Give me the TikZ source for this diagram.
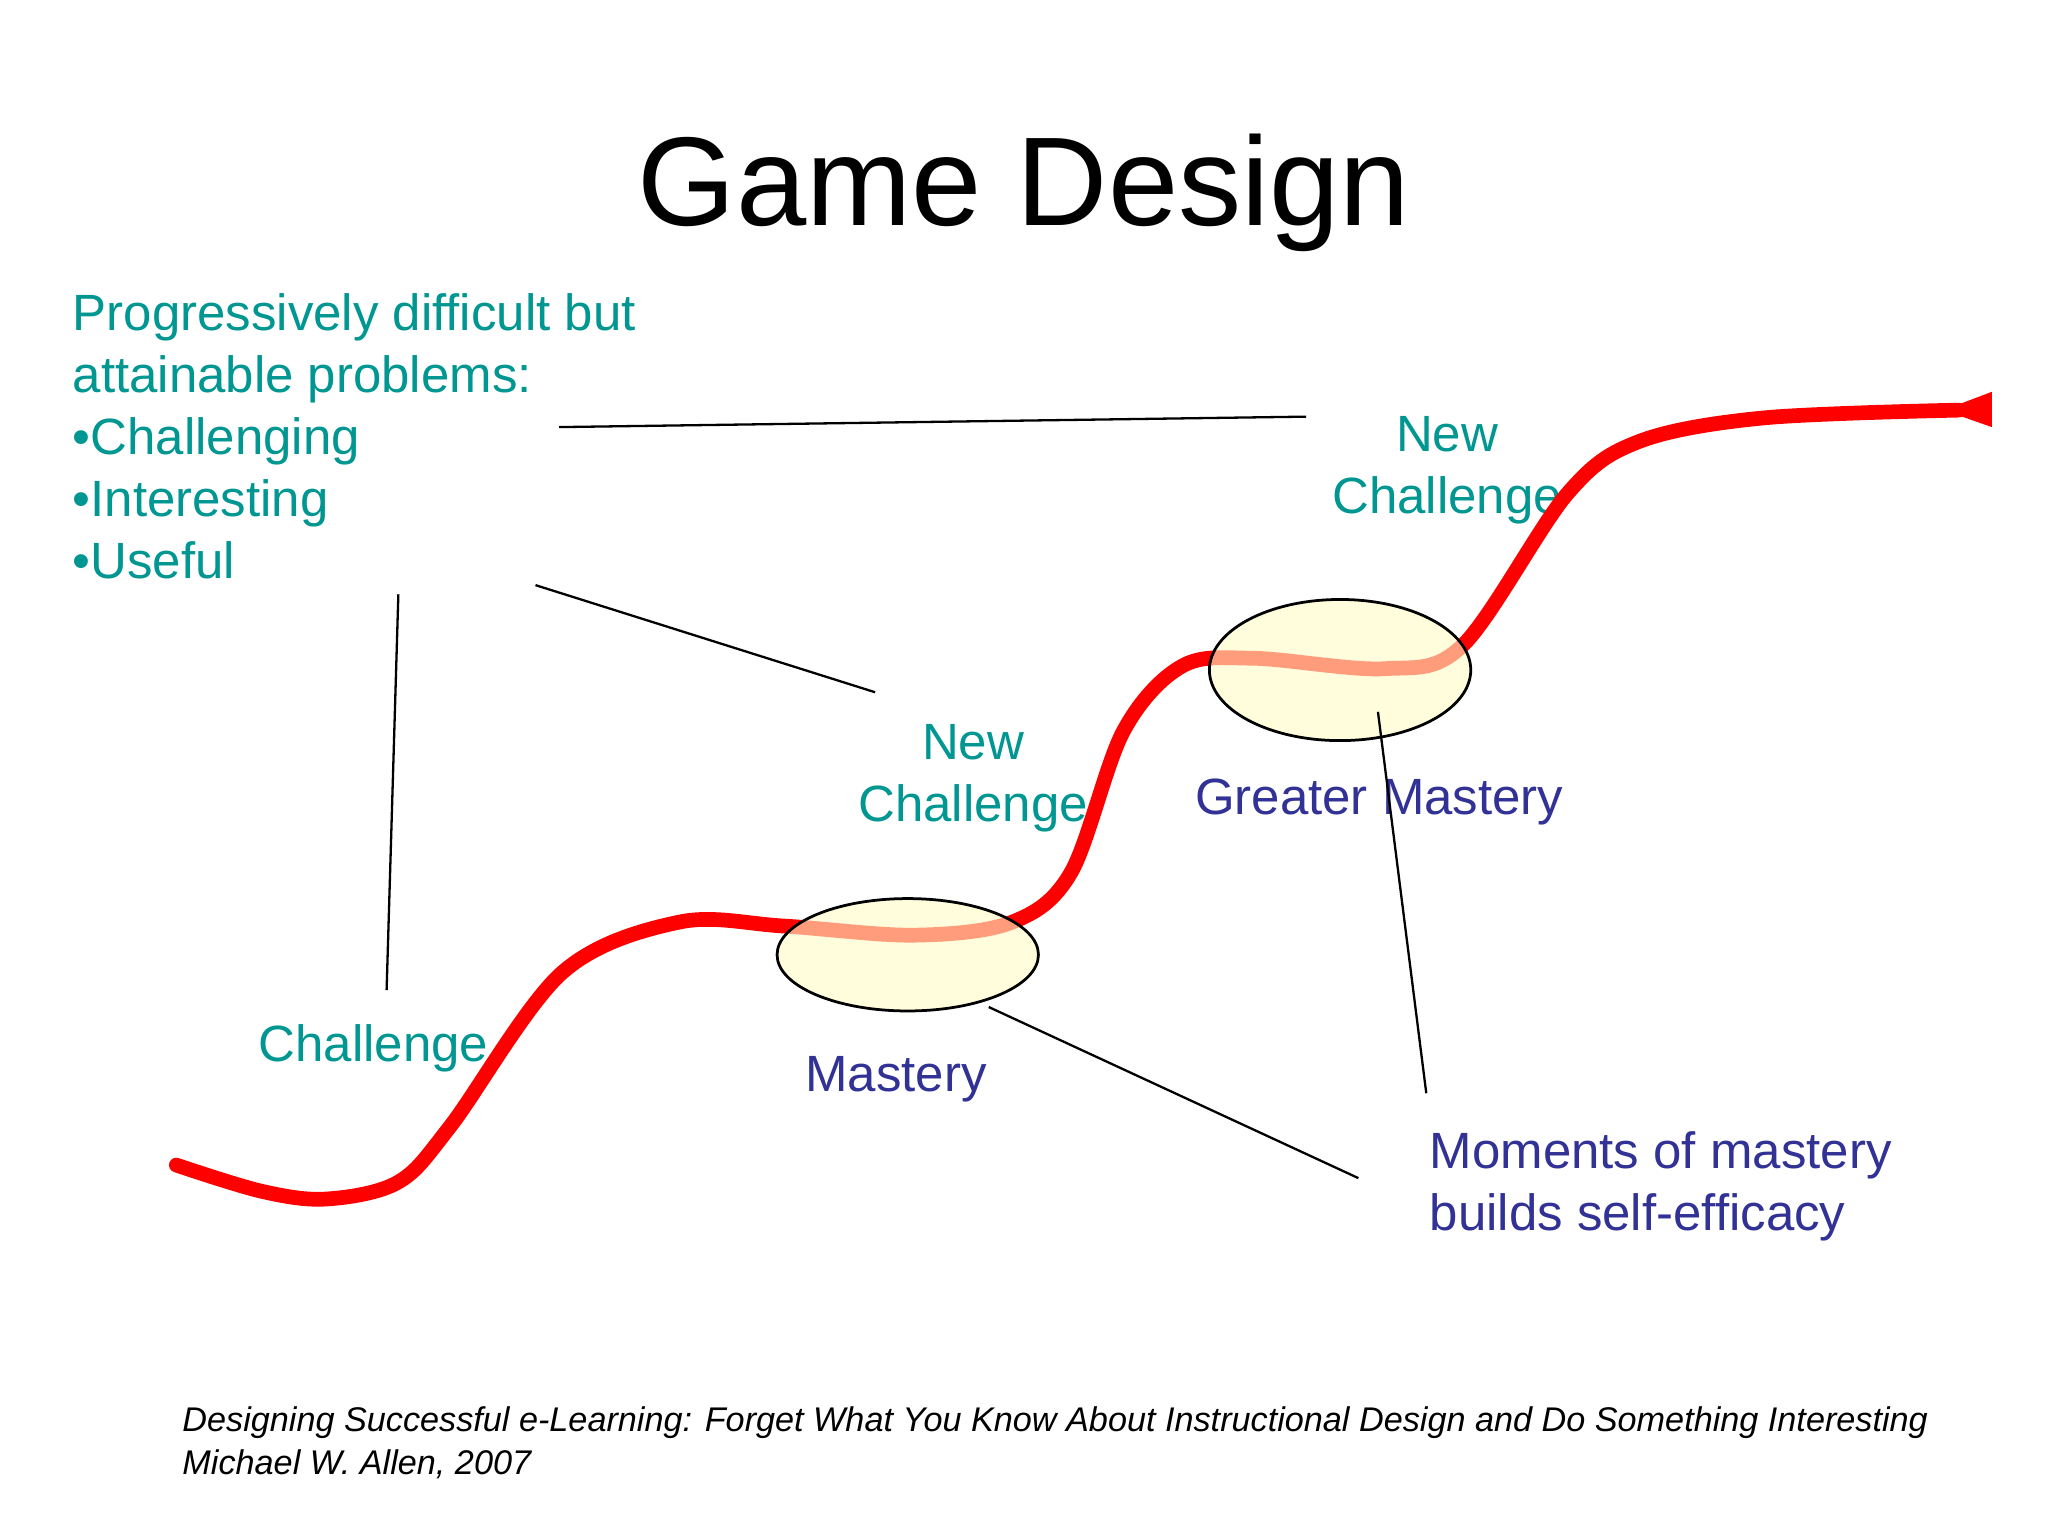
\documentclass[tikz,border=0pt]{standalone}
\usepackage{fontspec}
\setmainfont{Liberation Sans}
\usetikzlibrary{shapes.geometric}
\definecolor{teal2}{RGB}{0,150,145}
\definecolor{navy2}{RGB}{50,50,150}
\definecolor{pale}{RGB}{255,252,200}
\begin{document}
\begin{tikzpicture}[x=0.01cm,y=-0.01cm,
  tl/.style={text=teal2,font=\fontsize{11.1pt}{13.5pt}\selectfont,align=left,inner sep=0},
  nv/.style={text=navy2,font=\fontsize{11.1pt}{13.5pt}\selectfont,align=left,inner sep=0},
  ln/.style={black,line width=0.5pt},
  mast/.style={draw=black,fill=pale,fill opacity=0.62,line width=0.6pt}]
\useasboundingbox (0,0) rectangle (1568,1176);
\fill[white] (0,0) rectangle (1568,1176);
\node[font=\fontsize{27.5pt}{32pt}\selectfont] (title) at (784,148) {Game Design};
\node[tl,anchor=north west] (list) at (55,224) {Progressively difficult but\\attainable problems:\\•Challenging\\•Interesting\\•Useful};
\node[tl,align=center] (nc2) at (1108,360) {New\\Challenge};
\node[tl,align=center] (nc1) at (745,596) {New\\Challenge};
\node[tl] (ch) at (286,803) {Challenge};
\node[nv] (gm) at (1056,614) {Greater Mastery};
\node[nv] (m) at (686,826) {Mastery};
\node[nv,anchor=north west] (mom) at (1094,866) {Moments of mastery\\builds self-efficacy};
\node[anchor=north west,inner sep=0,align=left,font=\fontsize{7.45pt}{9.4pt}\selectfont\itshape] (cite) at (139,1076) {Designing Successful e-Learning: Forget What You Know About Instructional Design and Do Something Interesting\\Michael W. Allen, 2007};
\draw[red,line width=3.2pt,line cap=round] plot[smooth,tension=0.55] coordinates {(135,892) (200,912) (250,918) (305,905) (345,862) (430,745) (520,706) (600,709) (700,716) (775,706) (820,668) (860,560) (905,510) (960,504) (1060,512) (1120,494) (1200,378) (1255,338) (1350,320) (1500,314)};
\fill[red] (1525,300) -- (1525,327) -- (1488,314) -- cycle;
\node[mast,ellipse,minimum width=2cm,minimum height=0.86cm,inner sep=0] (e1) at (695,731) {};
\node[mast,ellipse,minimum width=2cm,minimum height=1.08cm,inner sep=0] (e2) at (1026,513) {};
\coordinate (a1) at (428,327); \coordinate (a2) at (1000,319);
\coordinate (b1) at (410,448); \coordinate (b2) at (670,530);
\coordinate (c1) at (305,455); \coordinate (c2) at (296,758);
\coordinate (d1) at (757,771); \coordinate (d2) at (1040,902);
\coordinate (f1) at (1055,545); \coordinate (f2) at (1092,837);
\draw[ln] (a1) -- (a2); \draw[ln] (b1) -- (b2); \draw[ln] (c1) -- (c2);
\draw[ln] (d1) -- (d2); \draw[ln] (f1) -- (f2);
\end{tikzpicture}
\end{document}
